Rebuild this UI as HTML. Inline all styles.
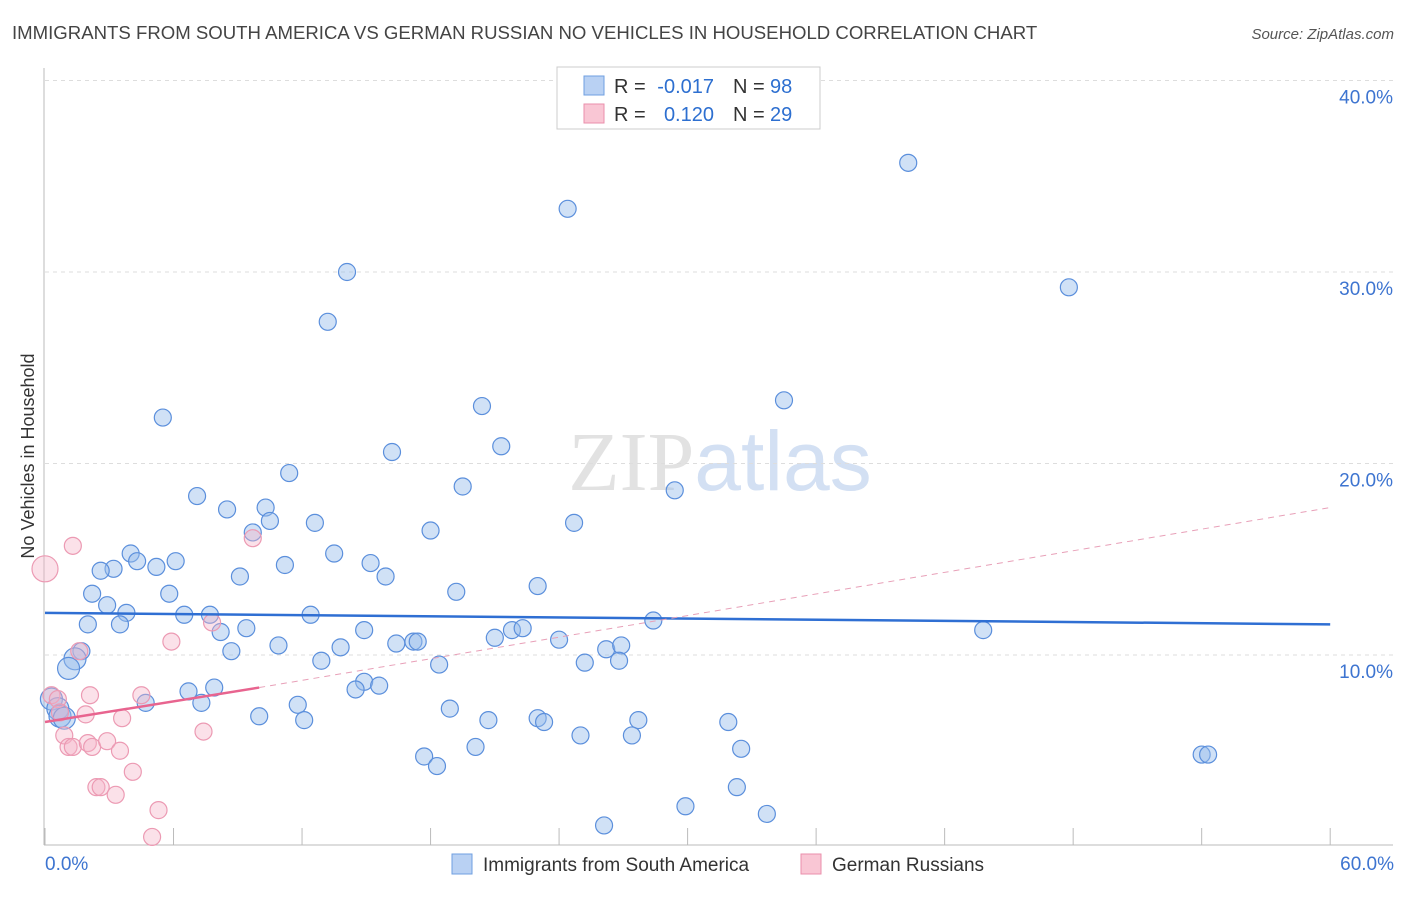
<!DOCTYPE html>
<html><head><meta charset="utf-8"><style>
body{margin:0;background:#fff;font-family:"Liberation Sans",sans-serif;}
svg text{font-family:"Liberation Sans",sans-serif;}
</style></head><body>
<svg id="chart" width="1406" height="892" xmlns="http://www.w3.org/2000/svg">
<text x="12" y="39" font-size="18.6" fill="#444">IMMIGRANTS FROM SOUTH AMERICA VS GERMAN RUSSIAN NO VEHICLES IN HOUSEHOLD CORRELATION CHART</text>
<text x="1394" y="39" font-size="15" fill="#555" text-anchor="end" font-style="italic">Source: ZipAtlas.com</text>
<text transform="translate(34,456) rotate(-90)" font-size="18" fill="#333" text-anchor="middle">No Vehicles in Household</text>
<text x="720" y="490" font-size="84" text-anchor="middle"><tspan fill="#e2e2e2" font-family="Liberation Serif">ZIP</tspan><tspan fill="#d3e0f3">atlas</tspan></text>
<g id="grid"></g><g id="axes"></g><g id="marks"></g>
<g>
<rect x="557" y="67" width="263" height="62" fill="#fff" stroke="#ccc"/>
<rect x="584" y="76" width="20" height="19" fill="#b9d1f3" stroke="#6f9fe0"/>
<rect x="584" y="104" width="20" height="19" fill="#f9c6d4" stroke="#ea8fab"/>
<text x="614" y="93" font-size="20" fill="#333">R =</text>
<text x="714" y="93" font-size="20" fill="#2d6fd0" text-anchor="end">-0.017</text>
<text x="733" y="93" font-size="20" fill="#333">N =</text>
<text x="770" y="93" font-size="20" fill="#2d6fd0">98</text>
<text x="614" y="121" font-size="20" fill="#333">R =</text>
<text x="714" y="121" font-size="20" fill="#2d6fd0" text-anchor="end">0.120</text>
<text x="733" y="121" font-size="20" fill="#333">N =</text>
<text x="770" y="121" font-size="20" fill="#2d6fd0">29</text>
</g>
<g>
<rect x="452" y="854" width="20" height="20" fill="#b9d1f3" stroke="#6f9fe0"/>
<text x="483" y="871" font-size="19" fill="#333">Immigrants from South America</text>
<rect x="801" y="854" width="20" height="20" fill="#f9c6d4" stroke="#ea8fab"/>
<text x="832" y="871" font-size="19" fill="#333">German Russians</text>
</g>
</svg>
<script>
const blueX=[40.3,24.4,14.1,13.2,47.8,34.5,20.4,5.5,16.2,21.3,11.4,19.5,29.4,7.1,8.5,10.3,10.5,12.6,24.7,18.0,9.7,4.0,4.3,6.1,13.5,15.2,11.2,3.2,2.6,5.2,9.1,15.9,23.0,2.2,5.8,19.2,2.9,3.8,3.5,6.5,7.7,12.4,28.4,2.0,8.2,9.4,14.9,21.8,22.3,21.0,43.8,10.9,13.8,16.4,17.2,17.4,24.0,26.2,26.9,8.7,1.7,1.4,1.1,12.9,18.4,25.2,26.8,14.9,6.7,7.9,14.5,15.6,4.7,7.3,11.8,18.9,0.3,0.6,0.7,0.9,10.0,12.1,20.7,23.0,23.3,27.7,31.9,25.0,27.4,32.5,20.1,17.7,18.3,54.0,54.3,32.3,29.9,33.7,26.1];
const blueY=[35.7,33.3,30.0,27.4,29.2,23.3,23.0,22.4,20.6,20.9,19.5,18.8,18.6,18.3,17.6,17.7,17.0,16.9,16.9,16.5,16.4,15.3,14.9,14.9,15.3,14.8,14.7,14.5,14.4,14.6,14.1,14.1,13.6,13.2,13.2,13.3,12.6,12.2,11.6,12.1,12.1,12.1,11.8,11.6,11.2,11.4,11.3,11.3,11.4,10.9,11.3,10.5,10.4,10.6,10.7,10.7,10.8,10.3,10.5,10.2,10.2,9.8,9.3,9.7,9.5,9.6,9.7,8.6,8.1,8.3,8.2,8.4,7.5,7.5,7.4,7.2,7.7,7.2,6.8,6.7,6.8,6.6,6.6,6.7,6.5,6.6,6.5,5.8,5.8,5.1,5.2,4.7,4.2,4.8,4.8,3.1,2.1,1.7,1.1];
const pinkX=[0.0,1.3,9.7,5.9,7.8,1.6,0.3,0.6,2.1,4.5,0.7,1.9,3.6,7.4,0.9,1.1,1.3,2.0,2.2,2.9,3.5,4.1,2.4,2.6,3.3,5.3,5.0];
const pinkY=[14.5,15.7,16.1,10.7,11.7,10.2,7.9,7.7,7.9,7.9,7.0,6.9,6.7,6.0,5.8,5.2,5.2,5.4,5.2,5.5,5.0,3.9,3.1,3.1,2.7,1.9,0.5];
const yTicks=[10,20,30,40];
const blueTrend=[12.2,11.6];
const pinkTrend=[6.5,8.3,17.7];
const xs=v=>45+v*21.42, ys=v=>846.5-v*19.15;
const NS="http://www.w3.org/2000/svg";
function mk(p,t,a){const e=document.createElementNS(NS,t);for(const k in a)e.setAttribute(k,a[k]);document.getElementById(p).appendChild(e);return e;}
yTicks.forEach(t=>{
 const l=mk('grid','line',{x1:45,x2:1393,y1:ys(t),y2:ys(t),stroke:'#ddd','stroke-dasharray':'4,4'});
 
 
 const tx=mk('grid','text',{x:1393,y:ys(t)+23,'font-size':19,fill:'#3d74d0','text-anchor':'end'});tx.textContent=t.toFixed(1)+'%';
 
 
});
mk('axes','line',{x1:44,x2:44,y1:68,y2:845,stroke:'#bbb'});
mk('axes','line',{x1:44,x2:1393,y1:845,y2:845,stroke:'#bbb'});
for(let i=0;i<=10;i++){mk('axes','line',{x1:xs(i*6),x2:xs(i*6),y1:828,y2:845,stroke:'#bbb'});}
const x0=mk('axes','text',{x:45,y:870,'font-size':19,fill:'#3d74d0'});x0.textContent='0.0%';


const x1=mk('axes','text',{x:1394,y:870,'font-size':19,fill:'#3d74d0','text-anchor':'end'});x1.textContent='60.0%';


blueX.forEach((v,i)=>{const c=mk('marks','circle',{cx:xs(v),cy:ys(blueY[i]),r:(v<1.5?11:8.5),fill:'rgba(150,188,236,0.45)',stroke:'#5b8fdc','stroke-width':1.2});
 
 });
pinkX.forEach((v,i)=>{const c=mk('marks','circle',{cx:xs(v),cy:ys(pinkY[i]),r:(i==0?13:8.5),fill:'rgba(246,180,200,0.4)',stroke:'#ec9ab3','stroke-width':1.2});
 
 });
const bl=mk('marks','line',{x1:xs(0),y1:ys(blueTrend[0]),x2:xs(60),y2:ys(blueTrend[1]),stroke:'#2f6fd3','stroke-width':2.5});


const pl=mk('marks','line',{x1:xs(0),y1:ys(pinkTrend[0]),x2:xs(10),y2:ys(pinkTrend[1]),stroke:'#e8648f','stroke-width':2.5});


const pd=mk('marks','line',{x1:xs(10),y1:ys(pinkTrend[1]),x2:xs(60),y2:ys(pinkTrend[2]),stroke:'#e8a0b8','stroke-width':1,'stroke-dasharray':'6,5'});


</script>
</body></html>
